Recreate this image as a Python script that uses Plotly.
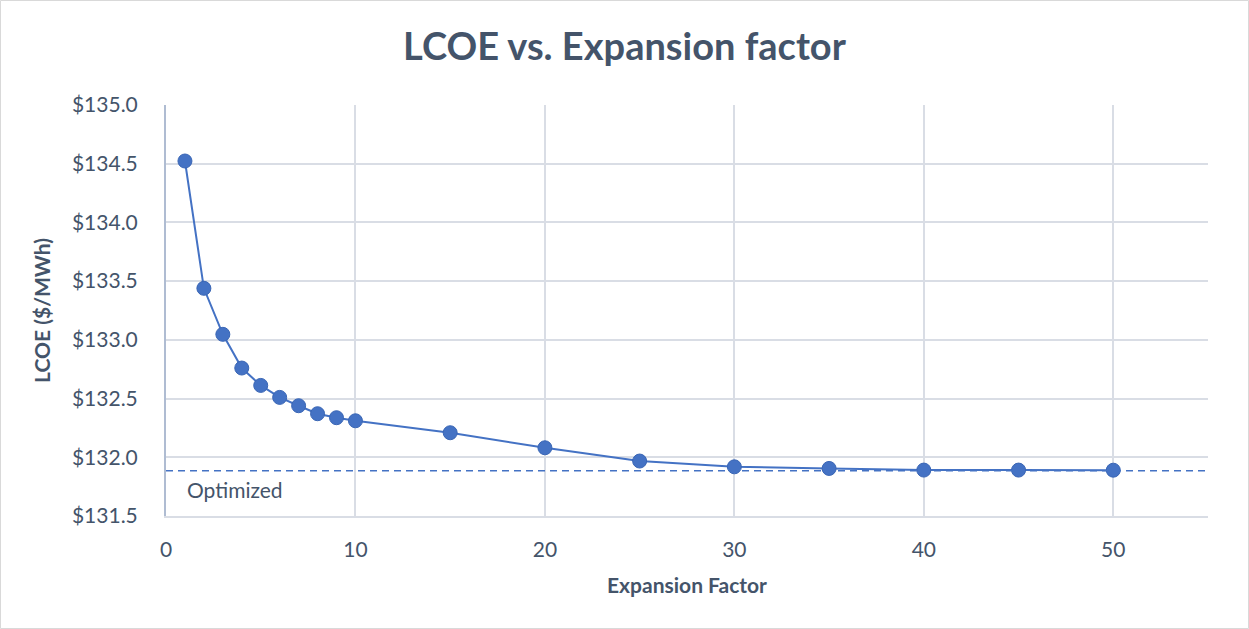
import plotly.graph_objects as go

# LCOE results for each expansion factor
expansion_factor = [1, 2, 3, 4, 5, 6, 7, 8, 9, 10, 15, 20, 25, 30, 35, 40, 45, 50]
lcoe = [134.523, 133.439, 133.047, 132.760, 132.612, 132.510, 132.439, 132.371,
        132.337, 132.311, 132.209, 132.081, 131.968, 131.919, 131.905, 131.891,
        131.891, 131.890]
optimized_lcoe = 131.885
optimized_label = "Optimized"

W, H = 1249, 629
ML, MR, MT, MB = 166, 41, 105, 113
PW, PH = W - ML - MR, H - MT - MB

TEXT = "#44546A"
BLUE = "#4472C4"
GRID = "#D9DDE5"
FONT = "Lato, 'Open Sans', sans-serif"

fig = go.Figure()
fig.add_trace(go.Scatter(
    x=expansion_factor, y=lcoe, mode="lines+markers",
    line=dict(color=BLUE, width=2),
    marker=dict(color=BLUE, size=14, line=dict(color="#3A66B5", width=1)),
    showlegend=False, hoverinfo="x+y",
))

shapes = [
    # optimized reference line
    dict(type="line", xref="paper", yref="y", x0=0, x1=1,
         y0=optimized_lcoe, y1=optimized_lcoe,
         line=dict(color=BLUE, width=1.5, dash="7px,5px"), layer="above"),
    # outer chart border
    dict(type="rect", xref="paper", yref="paper",
         x0=(0.5 - ML) / PW, x1=(W - 0.5 - ML) / PW,
         y0=-(H - 0.5 - MT - PH) / PH, y1=1 + (MT - 0.5) / PH,
         line=dict(color="#D9D9D9", width=1), layer="below"),
]

fig.update_layout(
    width=W, height=H,
    margin=dict(l=ML, r=MR, t=MT, b=MB, autoexpand=False),
    paper_bgcolor="white", plot_bgcolor="white",
    font=dict(family=FONT, color=TEXT, size=21),
    title=dict(text="<b>LCOE vs. Expansion factor</b>", x=0.5, xref="container",
               xanchor="center", y=1 - 47 / H, yanchor="middle",
               font=dict(size=38, color=TEXT, family=FONT)),
    xaxis=dict(range=[0, 55], tickmode="array", tickvals=[0, 10, 20, 30, 40, 50],
               showgrid=True, gridcolor=GRID, gridwidth=1.5,
               showline=True, linecolor=GRID, linewidth=2,
               zeroline=False, ticks="outside", ticklen=14, tickcolor="rgba(0,0,0,0)",
               tickfont=dict(size=21, color=TEXT),
               title=dict(text="<b>Expansion Factor</b>", standoff=18,
                          font=dict(size=21, color=TEXT))),
    yaxis=dict(range=[131.5, 135.0], dtick=0.5, tick0=131.5,
               tickprefix="$", tickformat=".1f",
               showgrid=True, gridcolor=GRID, gridwidth=1.5,
               showline=True, linecolor="#AFBCD2", linewidth=2,
               zeroline=False, ticks="outside", ticklen=22, tickcolor="rgba(0,0,0,0)",
               tickfont=dict(size=21, color=TEXT),
               title=dict(text="<b>LCOE ($/MWh)</b>", standoff=16,
                          font=dict(size=21, color=TEXT))),
    shapes=shapes,
    annotations=[dict(text=optimized_label, x=1, y=optimized_lcoe, xref="x", yref="y",
                      xanchor="left", yanchor="top", yshift=-4, showarrow=False,
                      font=dict(size=21, color=TEXT, family=FONT))],
)

fig.write_html("out.html")
